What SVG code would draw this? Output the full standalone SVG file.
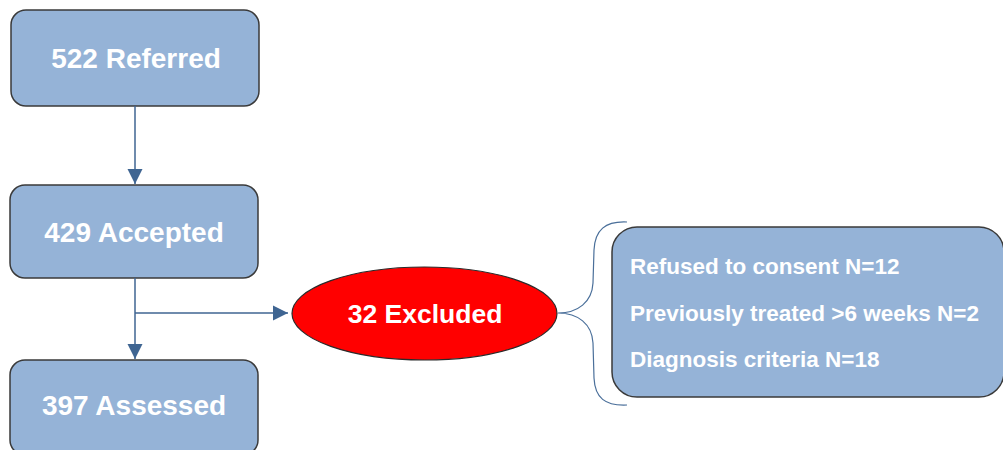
<svg xmlns="http://www.w3.org/2000/svg" width="1003" height="450" viewBox="0 0 1003 450">
<style>
.box{fill:#95b3d7;stroke:#3a3a3a;stroke-width:1.5}
.t{font-family:"Liberation Sans",Arial,sans-serif;font-weight:bold;fill:#ffffff;text-anchor:middle;font-size:28px}
.l{font-family:"Liberation Sans",Arial,sans-serif;font-weight:bold;fill:#ffffff;font-size:22.5px}
.c{fill:none;stroke:#3f6592;stroke-width:1.5}
.br{fill:none;stroke:#4a6f9a;stroke-width:1.2}
</style>
<defs>
<marker id="ah" markerUnits="userSpaceOnUse" markerWidth="16" markerHeight="16" viewBox="0 0 16 16" refX="15" refY="8" orient="auto">
<path d="M0,0.5 L15,8 L0,15.5 Z" fill="#3f6592"/>
</marker>
</defs>
<g id="n1">
<rect class="box" x="11" y="10" width="248" height="96" rx="15"/>
<text class="t" x="136" y="68">522 Referred</text>
</g>
<g id="n2">
<rect class="box" x="10" y="185" width="248" height="93" rx="15"/>
<text class="t" x="134" y="242">429 Accepted</text>
</g>
<g id="n3">
<rect class="box" x="10" y="360" width="248" height="95" rx="15"/>
<text class="t" x="134" y="415">397 Assessed</text>
</g>
<g id="n4">
<ellipse cx="424.5" cy="313.5" rx="132.5" ry="46.5" fill="#ff0000" stroke="#2a2a2a" stroke-width="1.2"/>
<text class="t" x="425" y="323" style="font-size:26.5px">32 Excluded</text>
</g>
<g id="n5">
<rect class="box" x="612" y="227" width="392" height="170" rx="25"/>
<text class="l" x="630" y="274">Refused to consent N=12</text>
<text class="l" x="630" y="321">Previously treated &gt;6 weeks N=2</text>
<text class="l" x="630" y="367">Diagnosis criteria N=18</text>
</g>
<g id="connectors">
<line class="c" x1="135" y1="106" x2="135" y2="184" marker-end="url(#ah)"/>
<line class="c" x1="135" y1="278" x2="135" y2="359" marker-end="url(#ah)"/>
<line class="c" x1="135" y1="313" x2="288" y2="313" marker-end="url(#ah)"/>
<path class="br" d="M627,222 C605,221 595,230 594,250 L593,283 C592,302 578,313 558,313 C578,313 592,324 593,343 L594,378 C595,398 605,406 627,405"/>
</g>
</svg>
